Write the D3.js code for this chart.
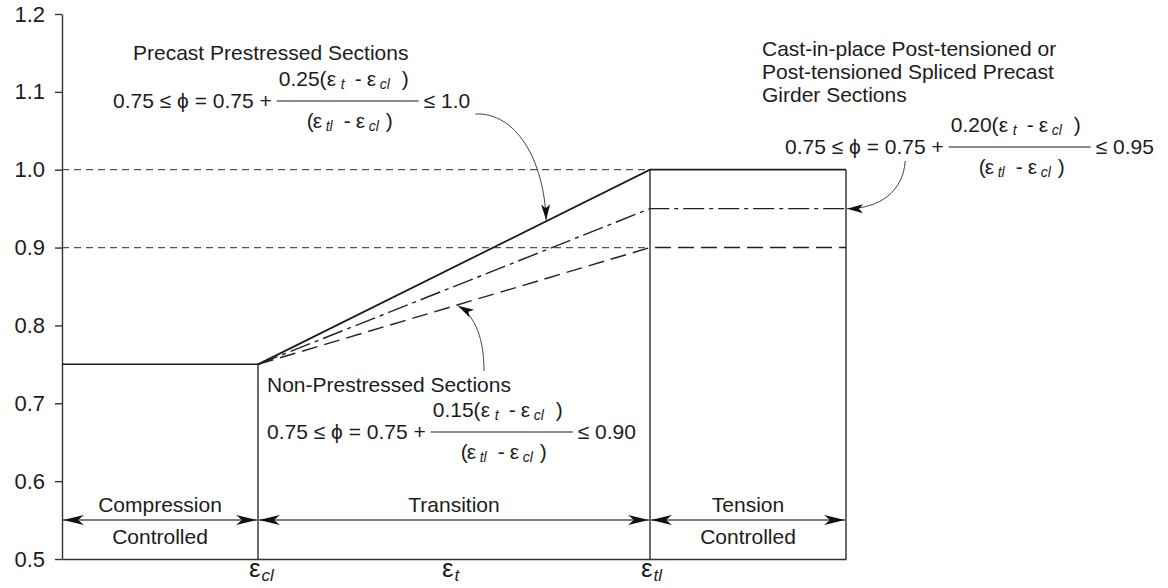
<!DOCTYPE html>
<html><head><meta charset="utf-8">
<script src="https://cdn.jsdelivr.net/npm/d3@7"></script>
<style>
body{margin:0;background:#fff}
text{font-family:"Liberation Sans",Arial,sans-serif;fill:#1c1c1c;white-space:pre}
</style>
</head><body>
<svg id="chart" width="1168" height="588"></svg>
<script>
// ---------- data ----------
const yTicks = [0.5, 0.6, 0.7, 0.8, 0.9, 1.0, 1.1, 1.2];
const strainPositions = [1, 2, 3];
const strainSubscripts = ["cl", "t", "tl"];
const xDomain = [0, 4];
const compressionX = [0, 1];
const compressionPhi = [0.75, 0.75];
const seriesX = [1, 3, 4];
const precastPhi = [0.75, 1.0, 1.0];
const postTensionedPhi = [0.75, 0.95, 0.95];
const nonPrestressedPhi = [0.75, 0.90, 0.90];
const referenceLevels = [1.0, 0.9];
const regionBounds = [0, 1, 3, 4];
const regionLabels = [["Compression", "Controlled"], ["Transition"], ["Tension", "Controlled"]];
const precastTitle = ["Precast Prestressed Sections"];
const postTitle = ["Cast-in-place Post-tensioned or", "Post-tensioned Spliced Precast", "Girder Sections"];
const nonTitle = ["Non-Prestressed Sections"];
const coefPrecast = "0.25", boundPrecast = "1.0";
const coefPost = "0.20", boundPost = "0.95";
const coefNon = "0.15", boundNon = "0.90";

// ---------- setup ----------
const svg = d3.select("#chart");
const x = d3.scaleLinear().domain(xDomain).range([62, 846]);
const y = d3.scaleLinear().domain([0.5, 1.2]).range([559, 14]);
const ink = "#1c1c1c";

const defs = svg.append("defs");
defs.append("marker").attr("id", "bigHead").attr("markerUnits", "userSpaceOnUse")
  .attr("viewBox", "-22 -6 24 12").attr("refX", 0).attr("refY", 0)
  .attr("markerWidth", 24).attr("markerHeight", 12).attr("orient", "auto-start-reverse")
  .append("path").attr("d", "M0,0 L-21,-5 L-15,0 L-21,5 Z").attr("fill", "#111");
defs.append("marker").attr("id", "smallHead").attr("markerUnits", "userSpaceOnUse")
  .attr("viewBox", "-18 -5 20 10").attr("refX", 0).attr("refY", 0)
  .attr("markerWidth", 20).attr("markerHeight", 10).attr("orient", "auto")
  .append("path").attr("d", "M0,0 L-16,-4.5 L-12,0 L-16,4.5 Z").attr("fill", "#111");

// ---------- axes ----------
const yAxis = svg.append("g").attr("transform", `translate(${x(0)},0)`)
  .call(d3.axisLeft(y).tickValues(yTicks).tickSize(7).tickSizeOuter(0).tickPadding(10)
    .tickFormat(d3.format(".1f")));
yAxis.select(".domain").attr("stroke", "#333").attr("stroke-width", 1.4);
yAxis.selectAll(".tick line").attr("stroke", "#333").attr("stroke-width", 1.4);
yAxis.selectAll(".tick text").attr("font-size", 22).attr("fill", ink)
  .attr("font-family", '"Liberation Sans",Arial,sans-serif');

const xAxis = svg.append("g").attr("transform", `translate(0,${y(0.5)})`)
  .call(d3.axisBottom(x).tickValues([]).tickSizeOuter(0));
xAxis.select(".domain").attr("stroke", "#333").attr("stroke-width", 1.4);

// strain labels
strainPositions.forEach((p, i) => {
  const t = svg.append("text").attr("x", x(p) - 9 - (i === 1 ? 3 : 0)).attr("y", 577)
    .attr("font-size", 26);
  t.append("tspan").text("ε");
  t.append("tspan").attr("font-size", 17).attr("font-style", "italic").attr("dy", 4).attr("dx", 1)
    .text(strainSubscripts[i]);
});

// ---------- reference dashed lines ----------
referenceLevels.forEach(v => {
  svg.append("line").attr("x1", x(0)).attr("x2", x(3)).attr("y1", y(v)).attr("y2", y(v))
    .attr("stroke", "#555").attr("stroke-width", 1.2).attr("stroke-dasharray", "7,5");
});

// ---------- region boundaries ----------
const line = d3.line().x(d => x(d[0])).y(d => y(d[1]));
svg.append("path").datum(d3.zip(compressionX, compressionPhi)).attr("d", line)
  .attr("fill", "none").attr("stroke", ink).attr("stroke-width", 1.5);
[[1, 0.75], [3, 1.0], [4, 1.0]].forEach(([p, top]) => {
  svg.append("line").attr("x1", x(p)).attr("x2", x(p)).attr("y1", y(top)).attr("y2", y(0.5))
    .attr("stroke", ink).attr("stroke-width", 1.3);
});

// ---------- series ----------
svg.append("path").datum(d3.zip(seriesX, nonPrestressedPhi)).attr("d", line)
  .attr("fill", "none").attr("stroke", "#222").attr("stroke-width", 1.4).attr("stroke-dasharray", "16,7");
svg.append("path").datum(d3.zip(seriesX, postTensionedPhi)).attr("d", line)
  .attr("fill", "none").attr("stroke", "#222").attr("stroke-width", 1.4).attr("stroke-dasharray", "21,5,4,5");
svg.append("path").datum(d3.zip(seriesX, precastPhi)).attr("d", line)
  .attr("fill", "none").attr("stroke", ink).attr("stroke-width", 1.8);

// ---------- region arrows & labels ----------
const arrowY = 520;
for (let i = 0; i < 3; i++) {
  const a = x(regionBounds[i]), b = x(regionBounds[i + 1]);
  svg.append("line").attr("x1", a + 1).attr("x2", b - 1).attr("y1", arrowY).attr("y2", arrowY)
    .attr("stroke", "#555").attr("stroke-width", 1.5)
    .attr("marker-start", "url(#bigHead)").attr("marker-end", "url(#bigHead)");
  const cx = (a + b) / 2;
  const labs = regionLabels[i];
  svg.append("text").attr("x", cx).attr("y", 512).attr("text-anchor", "middle")
    .attr("font-size", 21).text(labs[0]);
  if (labs[1]) svg.append("text").attr("x", cx).attr("y", 544).attr("text-anchor", "middle")
    .attr("font-size", 21).text(labs[1]);
}

// ---------- annotations ----------
function titleBlock(x0, base, lines, lh) {
  lines.forEach((l, i) => svg.append("text").attr("x", x0).attr("y", base + i * lh)
    .attr("font-size", 21).text(l));
}
function piece(g, px, py, str, sub) {
  g.append("text").attr("x", px).attr("y", sub ? py + 3 : py)
    .attr("font-size", sub ? 14 : 21).attr("font-style", sub ? "italic" : null).text(str);
}
function formula(x0, base, coef, bound) {
  const g = svg.append("g");
  const main = g.append("text").attr("x", x0).attr("y", base).attr("font-size", 21)
    .text("0.75 ≤ ϕ = 0.75 +");
  const w1 = main.node().getComputedTextLength();
  const fx = x0 + w1 + 5;
  const ny = base - 22, dy = base + 20;
  [[coef + "(", 2], ["ε", 50], ["t", 64, 1], ["-", 78], ["ε", 90], ["cl", 103, 1], [")", 125]]
    .forEach(([s, o, sb]) => piece(g, fx + o, ny, s, sb));
  g.append("line").attr("x1", fx).attr("x2", fx + 142).attr("y1", base - 7).attr("y2", base - 7)
    .attr("stroke", ink).attr("stroke-width", 1.2);
  [["(", 30], ["ε", 36], ["tl", 49, 1], ["-", 67], ["ε", 79], ["cl", 92, 1], [")", 109]]
    .forEach(([s, o, sb]) => piece(g, fx + o, dy, s, sb));
  const bt = g.append("text").attr("x", fx + 147).attr("y", base).attr("font-size", 21).text("≤ " + bound);
  const tmp = g.append("text").attr("font-size", 21).text("0.75 ≤ ϕ = ");
  const wa = tmp.node().getComputedTextLength();
  tmp.text("0.75");
  const wb = tmp.node().getComputedTextLength();
  tmp.remove();
  return {end: fx + 147 + bt.node().getComputedTextLength(), mid075: x0 + wa + wb / 2};
}

titleBlock(133, 60, precastTitle, 24);
const f1 = formula(113, 108, coefPrecast, boundPrecast);
titleBlock(267, 392, nonTitle, 24);
formula(267, 439, coefNon, boundNon);
titleBlock(762, 56, postTitle, 23);
const f3 = formula(785, 154, coefPost, boundPost);

// callout arrows
function callout(d) {
  svg.append("path").attr("d", d).attr("fill", "none").attr("stroke", "#444").attr("stroke-width", 1)
    .attr("marker-end", "url(#smallHead)");
}
const precastTipX = 2.47, nonTipX = 2.02;
const pTip = [x(precastTipX), y(0.75 + 0.25 * (precastTipX - 1) / 2)];
const nTip = [x(nonTipX), y(0.75 + 0.15 * (nonTipX - 1) / 2)];
const s1 = [f1.end + 5, 114];
callout(`M${s1[0]},${s1[1]} C${s1[0] + 40},${s1[1] - 2} ${pTip[0] - 2},${s1[1] + 45} ${pTip[0]},${pTip[1] - 1}`);
callout(`M484,371 C484,340 476,316 ${nTip[0]},${nTip[1] + 1}`);
const s3 = [f3.mid075, 161];
callout(`M${s3[0]},${s3[1]} C${s3[0] - 2},${s3[1] + 30} ${s3[0] - 25},${y(0.95)} ${x(4) + 1},${y(0.95)}`);
</script>
</body></html>
